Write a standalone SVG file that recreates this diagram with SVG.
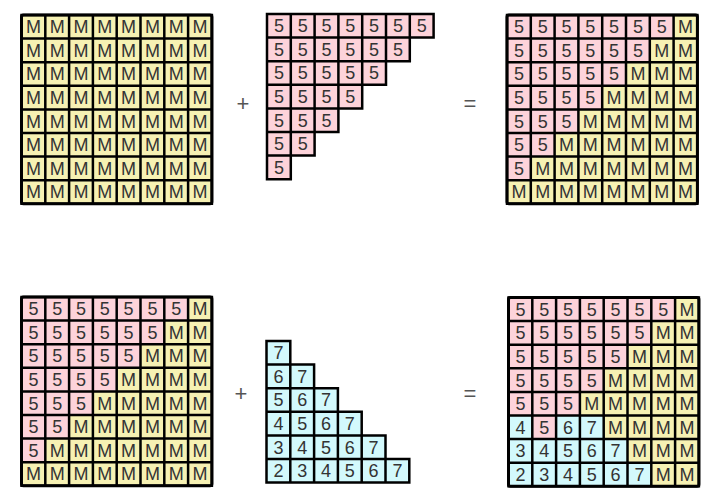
<svg xmlns="http://www.w3.org/2000/svg" xmlns:xlink="http://www.w3.org/1999/xlink" width="716" height="499" viewBox="0 0 716 499">
<style>
.y{fill:#f6f1b3}
.p{fill:#fdd3da}
.c{fill:#d3f9fc}
.g{fill:none;stroke:#000;stroke-width:2.5;stroke-linecap:square}
.o{fill:none;stroke:#000;stroke-width:3}
.t{font-family:"Liberation Sans",Arial,sans-serif;font-size:18px;fill:#333;text-anchor:middle}
.op{font-family:"Liberation Sans",Arial,sans-serif;font-size:22px;fill:#555;text-anchor:middle}
</style>
<defs>
<path id="grid8" class="g" d="M0 0H190.4M0 23.6H190.4M0 47.2H190.4M0 70.8H190.4M0 94.4H190.4M0 118H190.4M0 141.6H190.4M0 165.2H190.4M0 188.8H190.4M0 0V188.8M23.8 0V188.8M47.6 0V188.8M71.4 0V188.8M95.2 0V188.8M119 0V188.8M142.8 0V188.8M166.6 0V188.8M190.4 0V188.8"/>
<polygon id="stair" points="0,0 166.6,0 166.6,23.6 142.8,23.6 142.8,47.2 119,47.2 119,70.8 95.2,70.8 95.2,94.4 71.4,94.4 71.4,118 47.6,118 47.6,141.6 23.8,141.6 23.8,165.2 0,165.2"/>
<rect id="frame" class="o" x="0" y="0" width="190.4" height="188.8" rx="2"/>
</defs>

<g id="matrix-a" transform="translate(21.5,15)">
<rect class="y" x="0" y="0" width="190.4" height="188.8"/>
<use xlink:href="#grid8"/>
<use xlink:href="#frame"/>
<g class="t">
<text x="11.9 35.7 59.5 83.3 107.1 130.9 154.7 178.5" y="18.2">MMMMMMMM</text>
<text x="11.9 35.7 59.5 83.3 107.1 130.9 154.7 178.5" y="41.8">MMMMMMMM</text>
<text x="11.9 35.7 59.5 83.3 107.1 130.9 154.7 178.5" y="65.4">MMMMMMMM</text>
<text x="11.9 35.7 59.5 83.3 107.1 130.9 154.7 178.5" y="89">MMMMMMMM</text>
<text x="11.9 35.7 59.5 83.3 107.1 130.9 154.7 178.5" y="112.6">MMMMMMMM</text>
<text x="11.9 35.7 59.5 83.3 107.1 130.9 154.7 178.5" y="136.2">MMMMMMMM</text>
<text x="11.9 35.7 59.5 83.3 107.1 130.9 154.7 178.5" y="159.8">MMMMMMMM</text>
<text x="11.9 35.7 59.5 83.3 107.1 130.9 154.7 178.5" y="183.4">MMMMMMMM</text>
</g>
</g>

<g id="plus-top"><text class="op" x="243" y="111">+</text></g>

<g id="triangle-fives" transform="translate(267,14)">
<use xlink:href="#stair" class="p"/>
<path class="g" d="M0 0H166.6M0 23.6H166.6M0 47.2H142.8M0 70.8H119M0 94.4H95.2M0 118H71.4M0 141.6H47.6M0 165.2H23.8M0 0V165.2M23.8 0V165.2M47.6 0V141.6M71.4 0V118M95.2 0V94.4M119 0V70.8M142.8 0V47.2M166.6 0V23.6"/>
<g class="t">
<text x="11.9 35.7 59.5 83.3 107.1 130.9 154.7" y="18.2">5555555</text>
<text x="11.9 35.7 59.5 83.3 107.1 130.9" y="41.8">555555</text>
<text x="11.9 35.7 59.5 83.3 107.1" y="65.4">55555</text>
<text x="11.9 35.7 59.5 83.3" y="89">5555</text>
<text x="11.9 35.7 59.5" y="112.6">555</text>
<text x="11.9 35.7" y="136.2">55</text>
<text x="11.9" y="159.8">5</text>
</g>
</g>

<g id="equals-top"><text class="op" x="470" y="111">=</text></g>

<g id="matrix-b" transform="translate(507,15)">
<rect class="y" x="0" y="0" width="190.4" height="188.8"/>
<use xlink:href="#stair" class="p"/>
<use xlink:href="#grid8"/>
<use xlink:href="#frame"/>
<g class="t">
<text x="11.9 35.7 59.5 83.3 107.1 130.9 154.7 178.5" y="18.2">5555555M</text>
<text x="11.9 35.7 59.5 83.3 107.1 130.9 154.7 178.5" y="41.8">555555MM</text>
<text x="11.9 35.7 59.5 83.3 107.1 130.9 154.7 178.5" y="65.4">55555MMM</text>
<text x="11.9 35.7 59.5 83.3 107.1 130.9 154.7 178.5" y="89">5555MMMM</text>
<text x="11.9 35.7 59.5 83.3 107.1 130.9 154.7 178.5" y="112.6">555MMMMM</text>
<text x="11.9 35.7 59.5 83.3 107.1 130.9 154.7 178.5" y="136.2">55MMMMMM</text>
<text x="11.9 35.7 59.5 83.3 107.1 130.9 154.7 178.5" y="159.8">5MMMMMMM</text>
<text x="11.9 35.7 59.5 83.3 107.1 130.9 154.7 178.5" y="183.4">MMMMMMMM</text>
</g>
</g>

<g id="matrix-c" transform="translate(21.5,297)">
<rect class="y" x="0" y="0" width="190.4" height="188.8"/>
<use xlink:href="#stair" class="p"/>
<use xlink:href="#grid8"/>
<use xlink:href="#frame"/>
<g class="t">
<text x="11.9 35.7 59.5 83.3 107.1 130.9 154.7 178.5" y="18.2">5555555M</text>
<text x="11.9 35.7 59.5 83.3 107.1 130.9 154.7 178.5" y="41.8">555555MM</text>
<text x="11.9 35.7 59.5 83.3 107.1 130.9 154.7 178.5" y="65.4">55555MMM</text>
<text x="11.9 35.7 59.5 83.3 107.1 130.9 154.7 178.5" y="89">5555MMMM</text>
<text x="11.9 35.7 59.5 83.3 107.1 130.9 154.7 178.5" y="112.6">555MMMMM</text>
<text x="11.9 35.7 59.5 83.3 107.1 130.9 154.7 178.5" y="136.2">55MMMMMM</text>
<text x="11.9 35.7 59.5 83.3 107.1 130.9 154.7 178.5" y="159.8">5MMMMMMM</text>
<text x="11.9 35.7 59.5 83.3 107.1 130.9 154.7 178.5" y="183.4">MMMMMMMM</text>
</g>
</g>

<g id="plus-bottom"><text class="op" x="241" y="401">+</text></g>

<g id="triangle-steps" transform="translate(266.5,341)">
<polygon class="c" points="0,0 23.8,0 23.8,23.6 47.6,23.6 47.6,47.2 71.4,47.2 71.4,70.8 95.2,70.8 95.2,94.4 119,94.4 119,118 142.8,118 142.8,141.6 0,141.6"/>
<path class="g" d="M0 0H23.8M0 23.6H47.6M0 47.2H71.4M0 70.8H95.2M0 94.4H119M0 118H142.8M0 141.6H142.8M0 0V141.6M23.8 0V141.6M47.6 23.6V141.6M71.4 47.2V141.6M95.2 70.8V141.6M119 94.4V141.6M142.8 118V141.6"/>
<g class="t">
<text x="11.9" y="18.2">7</text>
<text x="11.9 35.7" y="41.8">67</text>
<text x="11.9 35.7 59.5" y="65.4">567</text>
<text x="11.9 35.7 59.5 83.3" y="89">4567</text>
<text x="11.9 35.7 59.5 83.3 107.1" y="112.6">34567</text>
<text x="11.9 35.7 59.5 83.3 107.1 130.9" y="136.2">234567</text>
</g>
</g>

<g id="equals-bottom"><text class="op" x="470" y="401">=</text></g>

<g id="matrix-d" transform="translate(508.5,297.5)">
<rect class="y" x="0" y="0" width="190.4" height="188.8"/>
<polygon class="p" points="0,0 166.6,0 166.6,23.6 142.8,23.6 142.8,47.2 119,47.2 119,70.8 95.2,70.8 95.2,94.4 71.4,94.4 71.4,118 0,118"/>
<polygon class="c" points="0,118 95.2,118 95.2,141.6 119,141.6 119,165.2 142.8,165.2 142.8,188.8 0,188.8"/>
<rect class="p" x="23.8" y="118" width="23.8" height="23.6"/>
<use xlink:href="#grid8"/>
<use xlink:href="#frame"/>
<g class="t">
<text x="11.9 35.7 59.5 83.3 107.1 130.9 154.7 178.5" y="18.2">5555555M</text>
<text x="11.9 35.7 59.5 83.3 107.1 130.9 154.7 178.5" y="41.8">555555MM</text>
<text x="11.9 35.7 59.5 83.3 107.1 130.9 154.7 178.5" y="65.4">55555MMM</text>
<text x="11.9 35.7 59.5 83.3 107.1 130.9 154.7 178.5" y="89">5555MMMM</text>
<text x="11.9 35.7 59.5 83.3 107.1 130.9 154.7 178.5" y="112.6">555MMMMM</text>
<text x="11.9 35.7 59.5 83.3 107.1 130.9 154.7 178.5" y="136.2">4567MMMM</text>
<text x="11.9 35.7 59.5 83.3 107.1 130.9 154.7 178.5" y="159.8">34567MMM</text>
<text x="11.9 35.7 59.5 83.3 107.1 130.9 154.7 178.5" y="183.4">234567MM</text>
</g>
</g>
</svg>
